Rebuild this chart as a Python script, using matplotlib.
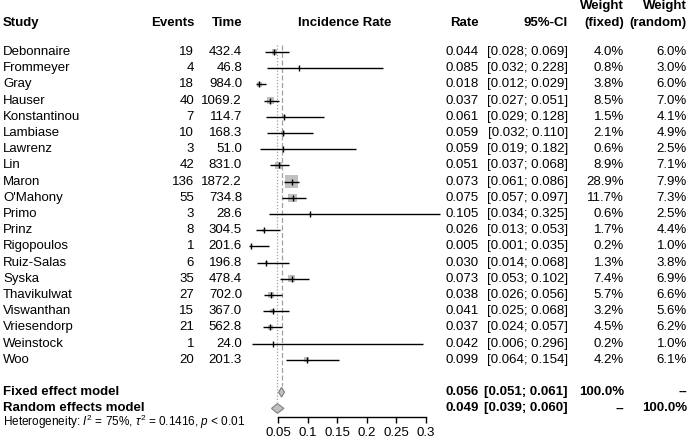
import matplotlib
matplotlib.use("Agg")
from matplotlib import pyplot as plt
import numpy as np

plt.rcParams['font.family'] = ['Liberation Sans', 'DejaVu Sans']
plt.rcParams['mathtext.fontset'] = 'custom'
plt.rcParams['mathtext.rm'] = 'Liberation Sans'
plt.rcParams['mathtext.it'] = 'Liberation Sans:italic'

studies = ["Debonnaire", "Frommeyer", "Gray", "Hauser", "Konstantinou", "Lambiase",
           "Lawrenz", "Lin", "Maron", "O'Mahony", "Primo", "Prinz", "Rigopoulos",
           "Ruiz-Salas", "Syska", "Thavikulwat", "Viswanthan", "Vriesendorp",
           "Weinstock", "Woo"]
events = [19, 4, 18, 40, 7, 10, 3, 42, 136, 55, 3, 8, 1, 6, 35, 27, 15, 21, 1, 20]
time = [432.4, 46.8, 984.0, 1069.2, 114.7, 168.3, 51.0, 831.0, 1872.2, 734.8,
        28.6, 304.5, 201.6, 196.8, 478.4, 702.0, 367.0, 562.8, 24.0, 201.3]
rate = [0.044, 0.085, 0.018, 0.037, 0.061, 0.059, 0.059, 0.051, 0.073, 0.075,
        0.105, 0.026, 0.005, 0.030, 0.073, 0.038, 0.041, 0.037, 0.042, 0.099]
lower = [0.028, 0.032, 0.012, 0.027, 0.029, 0.032, 0.019, 0.037, 0.061, 0.057,
         0.034, 0.013, 0.001, 0.014, 0.053, 0.026, 0.025, 0.024, 0.006, 0.064]
upper = [0.069, 0.228, 0.029, 0.051, 0.128, 0.110, 0.182, 0.068, 0.086, 0.097,
         0.325, 0.053, 0.035, 0.068, 0.102, 0.056, 0.068, 0.057, 0.296, 0.154]
w_fixed = [4.0, 0.8, 3.8, 8.5, 1.5, 2.1, 0.6, 8.9, 28.9, 11.7,
           0.6, 1.7, 0.2, 1.3, 7.4, 5.7, 3.2, 4.5, 0.2, 4.2]
w_random = [6.0, 3.0, 6.0, 7.0, 4.1, 4.9, 2.5, 7.1, 7.9, 7.3,
            2.5, 4.4, 1.0, 3.8, 6.9, 6.6, 5.6, 6.2, 1.0, 6.1]

fixed_est, fixed_lo, fixed_hi = 0.056, 0.051, 0.061
random_est, random_lo, random_hi = 0.049, 0.039, 0.060
ticks = [0.05, 0.1, 0.15, 0.2, 0.25, 0.3]
tick_labels = ["0.05", "0.1", "0.15", "0.2", "0.25", "0.3"]

W, H = 689, 448
fs = 9.5
rows = np.arange(len(studies))
row_fixed, row_random, row_het = len(studies) + 1, len(studies) + 2, len(studies) + 3
y_top, y_bot = -3.21, 24.44
y_axis = 22.53

fig = plt.figure(figsize=(W / 100, H / 100), dpi=100)

# text layer
tx = fig.add_axes([0, 0, 1, 1])
tx.set_xlim(0, W)
tx.set_ylim(y_bot, y_top)
tx.axis("off")

# forest layer
x0, x1 = 0.0, 0.33
px_per_unit = 590
left_px = 278 - 0.05 * px_per_unit
ax_bottom = (H - 417) / H
fx = fig.add_axes([left_px / W, ax_bottom, (x1 - x0) * px_per_unit / W, 1 - ax_bottom])
fx.set_xlim(x0, x1)
fx.set_ylim(y_axis, y_top)
fx.patch.set_visible(False)
for s in ["top", "left", "right"]:
    fx.spines[s].set_visible(False)
fx.spines["bottom"].set_bounds(0.05, 0.3)
fx.spines["bottom"].set_linewidth(1.0)
fx.set_yticks([])
fx.set_xticks(ticks)
fx.set_xticklabels(tick_labels, fontsize=fs)
fx.tick_params(axis="x", length=4.5, width=1.0, pad=3)

# headers
hdr = dict(fontsize=fs, fontweight="bold", va="center")
tx.text(3, -1.8, "Study", ha="left", **hdr)
tx.text(194, -1.8, "Events", ha="right", **hdr)
tx.text(242, -1.8, "Time", ha="right", **hdr)
tx.text(345, -1.8, "Incidence Rate", ha="center", **hdr)
tx.text(479, -1.8, "Rate", ha="right", **hdr)
tx.text(568, -1.8, "95%-CI", ha="right", **hdr)
tx.text(624, -2.85, "Weight", ha="right", **hdr)
tx.text(624, -1.8, "(fixed)", ha="right", **hdr)
tx.text(687, -2.85, "Weight", ha="right", **hdr)
tx.text(687, -1.8, "(random)", ha="right", **hdr)

# study rows
for i, name in enumerate(studies):
    kw = dict(fontsize=fs, va="center")
    tx.text(3, i, name, ha="left", **kw)
    tx.text(194, i, str(events[i]), ha="right", **kw)
    tx.text(242, i, "%.1f" % time[i], ha="right", **kw)
    tx.text(479, i, "%.3f" % rate[i], ha="right", **kw)
    tx.text(568, i, "[%.3f; %.3f]" % (lower[i], upper[i]), ha="right", **kw)
    tx.text(624, i, "%.1f%%" % w_fixed[i], ha="right", **kw)
    tx.text(687, i, "%.1f%%" % w_random[i], ha="right", **kw)

# boxes, CI lines and estimate ticks
sizes = 3.27 * np.array(w_fixed)
fx.scatter(rate, rows, s=sizes, marker="s", color="#C0C0C0", linewidths=0, zorder=2)
fx.hlines(rows, lower, upper, color="black", lw=1.0, zorder=3)
fx.scatter(rate, rows, s=20, marker="|", color="black", linewidths=1.0, zorder=4)

# reference lines
fx.vlines(fixed_est, -0.45, row_fixed - 0.4, color="#A0A0A0", lw=0.9, linestyles=(0, (4, 2)), zorder=1)
fx.vlines(random_est, -0.45, row_random - 0.4, color="#A0A0A0", lw=0.9, linestyles=(0, (1, 1.5)), zorder=1)

# diamonds
for est, lo, hi, r in [(fixed_est, fixed_lo, fixed_hi, row_fixed),
                       (random_est, random_lo, random_hi, row_random)]:
    fx.fill([lo, est, hi, est], [r, r - 0.3, r, r + 0.3],
            facecolor="#C0C0C0", edgecolor="#7F7F7F", lw=0.8, zorder=3)

# pooled rows
bkw = dict(fontsize=fs, fontweight="bold", va="center")
tx.text(3, row_fixed, "Fixed effect model", ha="left", **bkw)
tx.text(479, row_fixed, "%.3f" % fixed_est, ha="right", **bkw)
tx.text(568, row_fixed, "[%.3f; %.3f]" % (fixed_lo, fixed_hi), ha="right", **bkw)
tx.text(624, row_fixed, "100.0%", ha="right", **bkw)
tx.text(687, row_fixed, "--", ha="right", **bkw)
tx.text(3, row_random, "Random effects model", ha="left", **bkw)
tx.text(479, row_random, "%.3f" % random_est, ha="right", **bkw)
tx.text(568, row_random, "[%.3f; %.3f]" % (random_lo, random_hi), ha="right", **bkw)
tx.text(624, row_random, "--", ha="right", **bkw)
tx.text(687, row_random, "100.0%", ha="right", **bkw)

tx.text(3, row_het - 0.15,
        r"Heterogeneity: $I^2$ = 75%, $\tau^2$ = 0.1416, $p$ < 0.01",
        ha="left", va="center", fontsize=8.5)

fig.savefig("out.png", dpi=100)
